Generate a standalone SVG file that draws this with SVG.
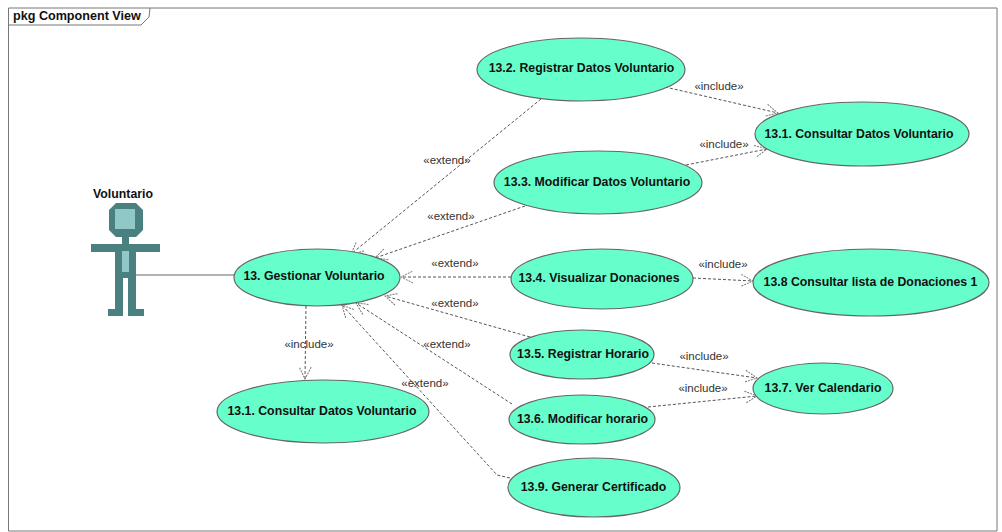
<svg xmlns="http://www.w3.org/2000/svg" width="1002" height="532" viewBox="0 0 1002 532">
<style>
text{font-family:"Liberation Sans",Arial,sans-serif;fill:#111}
.u{fill:#66ffcc;stroke:#666;stroke-width:1.2}
.n{font-size:12.3px;font-weight:bold;text-anchor:middle}
.l{font-size:11.5px;text-anchor:middle;fill:#333}
.d{fill:none;stroke:#555;stroke-width:1;stroke-dasharray:3 2;marker-end:url(#a)}
.s{fill:#4a8080}
.h{fill:#90c8c8}
</style>
<defs>
<marker id="a" markerUnits="userSpaceOnUse" markerWidth="16" markerHeight="16" refX="13" refY="8" orient="auto">
<path d="M1 2L13 8L1 14" fill="none" stroke="#777" stroke-width="1" stroke-dasharray="2 1"/>
</marker>
</defs>
<rect width="1002" height="532" fill="#fff"/>
<g id="frame">
<path d="M8.5 531V8H997V531Z" fill="none" stroke="#777" stroke-width="1"/>
<path d="M8.5 25H141L149 17L150 8" fill="none" stroke="#777" stroke-width="1"/>
<text x="13" y="20" font-size="12.6px" font-weight="bold" fill="#222">pkg Component View</text>
</g>
<g id="connectors">
<path d="M136 275H234" fill="none" stroke="#666" stroke-width="1"/>
<path class="d" d="M541 99L351 254"/>
<path class="d" d="M525 206L375 258"/>
<path class="d" d="M511 277L401 277"/>
<path class="d" d="M530 337L385 296"/>
<path class="d" d="M512 404L356 303"/>
<path class="d" d="M510 478L497 475L342 305"/>
<path class="d" d="M306 306L305 379"/>
<path class="d" d="M665 87L778 113"/>
<path class="d" d="M686 165L767 149"/>
<path class="d" d="M693 278L753 281"/>
<path class="d" d="M652 363L757 378"/>
<path class="d" d="M648 407L757 396"/>
<text class="l" x="447" y="164">«extend»</text>
<text class="l" x="451" y="220">«extend»</text>
<text class="l" x="455" y="267">«extend»</text>
<text class="l" x="455" y="307">«extend»</text>
<text class="l" x="447" y="348">«extend»</text>
<text class="l" x="425" y="387">«extend»</text>
<text class="l" x="309" y="348">«include»</text>
<text class="l" x="719" y="90">«include»</text>
<text class="l" x="724" y="148">«include»</text>
<text class="l" x="723" y="268">«include»</text>
<text class="l" x="704" y="360">«include»</text>
<text class="l" x="703" y="392">«include»</text>
</g>
<g id="actor">
<path class="s" d="M116 203H136L143 210V230L136 237H129V244H122V237H116L109 230V210Z"/>
<rect class="s" x="91" y="244" width="69" height="8"/>
<rect class="s" x="115" y="252" width="21" height="26"/>
<rect class="s" x="115" y="278" width="8" height="31"/>
<rect class="s" x="128" y="278" width="8" height="31"/>
<rect class="s" x="108" y="309" width="15" height="7"/>
<rect class="s" x="128" y="309" width="16" height="7"/>
<rect class="h" x="115" y="209" width="20" height="20"/>
<rect class="h" x="122" y="251" width="7" height="21"/>
<text class="n" x="123" y="198">Voluntario</text>
</g>
<g id="uc13"><ellipse class="u" cx="317" cy="277.5" rx="83" ry="28.5"/><text class="n" x="314" y="280">13. Gestionar Voluntario</text></g>
<g id="uc132"><ellipse class="u" cx="581" cy="69.5" rx="104" ry="31.5"/><text class="n" x="581.5" y="72">13.2. Registrar Datos Voluntario</text></g>
<g id="uc131a"><ellipse class="u" cx="862" cy="134" rx="107" ry="32"/><text class="n" x="859" y="138">13.1. Consultar Datos Voluntario</text></g>
<g id="uc133"><ellipse class="u" cx="598" cy="182.5" rx="104" ry="31.5"/><text class="n" x="597" y="186">13.3. Modificar Datos Voluntario</text></g>
<g id="uc134"><ellipse class="u" cx="602" cy="279" rx="91" ry="30"/><text class="n" x="599" y="282">13.4. Visualizar Donaciones</text></g>
<g id="uc138"><ellipse class="u" cx="871" cy="282.5" rx="118" ry="33.5"/><text class="n" x="870.5" y="286">13.8 Consultar lista de Donaciones 1</text></g>
<g id="uc135"><ellipse class="u" cx="582" cy="354.5" rx="72" ry="24.5"/><text class="n" x="583" y="358">13.5. Registrar Horario</text></g>
<g id="uc136"><ellipse class="u" cx="582" cy="419.5" rx="73" ry="24.5"/><text class="n" x="582.5" y="423">13.6. Modificar horario</text></g>
<g id="uc137"><ellipse class="u" cx="823" cy="388.5" rx="70" ry="25.5"/><text class="n" x="823" y="392">13.7. Ver Calendario</text></g>
<g id="uc131b"><ellipse class="u" cx="323" cy="411.5" rx="106" ry="31.5"/><text class="n" x="322" y="415">13.1. Consultar Datos Voluntario</text></g>
<g id="uc139"><ellipse class="u" cx="594" cy="487.5" rx="86" ry="29.5"/><text class="n" x="593.5" y="491">13.9. Generar Certificado</text></g>
</svg>
